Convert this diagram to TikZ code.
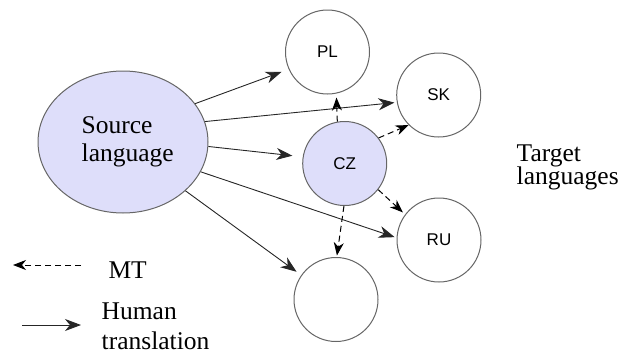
\documentclass[tikz,border=0pt]{standalone}
\usepackage{fontspec}
\newfontfamily\txtfont{Liberation Serif}
\newfontfamily\labelfont{Liberation Sans}
\usetikzlibrary{shapes,arrows.meta}

\definecolor{srcfill}{RGB}{222,222,250}

\begin{document}
\begin{tikzpicture}[x=1pt,y=-1pt,
	lang/.style={circle,draw=black!60,line width=1pt,minimum size=84pt,inner sep=0pt,font=\labelfont\fontsize{17}{17}\selectfont},
	human/.style={-{Stealth[length=16pt,width=12pt,inset=5pt]},line width=0.9pt,black!85},
	mt/.style={-{Stealth[length=13pt,width=10pt,inset=4pt]},line width=1pt,dash pattern=on 6pt off 4pt,black}]
	\useasboundingbox (0,0) rectangle (619,354);
	% source and target languages
	\node[ellipse,draw=black!60,line width=1pt,fill=srcfill,minimum width=170pt,minimum height=142pt] (src) at (123,142) {};
	\node[inner sep=0pt,align=left,font=\txtfont\fontsize{25.5}{28.4}\selectfont] (srctxt) at (127.7,141.8) {Source\\language};
	\node[lang] (pl) at (327.5,52) {PL};
	\node[lang] (sk) at (438.7,95) {SK};
	\node[lang,fill=srcfill] (cz) at (344.7,163.5) {CZ};
	\node[lang] (ru) at (439,240) {RU};
	\node[lang] (blank) at (336,299.5) {};
	\node[inner sep=0pt,align=left,font=\txtfont\fontsize{25.5}{23.3}\selectfont] (tgt) at (567.7,167.6) {Target\\languages};
	% human translation
	\foreach \a/\b/\s in {28/pl.204/7.6, 14/sk.190/2.4, -3/cz.171/10.4, -21/ru.177/2, -38/blank.145/5.7}
		\draw[human,shorten >=\s pt] (src.\a) -- (\b);
	% MT
	\foreach \a/\b/\s in {100/pl.-78/4, 37/sk.225/0, -38/ru.143/3, -91/blank.89/1.5}
		\draw[mt,shorten >=\s pt] (cz.\a) -- (\b);
	% legend
	\coordinate (mtstart) at (81,265);
	\coordinate (mtend) at (13,265);
	\coordinate (htstart) at (22,325);
	\coordinate (htend) at (81,325);
	\draw[mt] (mtstart) -- (mtend);
	\draw[human] (htstart) -- (htend);
	\node[inner sep=0pt,anchor=base west,font=\txtfont\fontsize{25.5}{28}\selectfont] (mtlbl) at (108.3,278.3) {MT};
	\node[inner sep=0pt,align=left,font=\txtfont\fontsize{25.5}{30}\selectfont] (htlbl) at (155.5,326.6) {Human\\translation};
\end{tikzpicture}
\end{document}
